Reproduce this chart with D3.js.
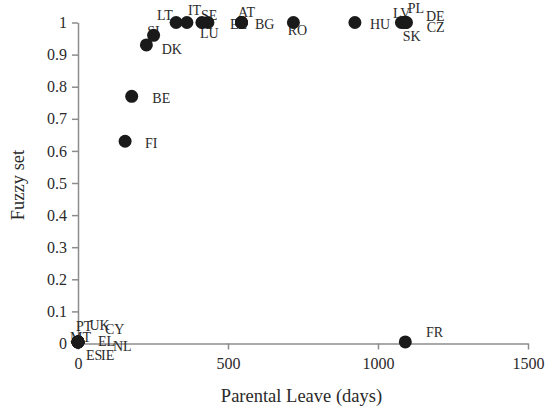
<!DOCTYPE html>
<html>
<head>
<meta charset="utf-8">
<script src="https://cdn.jsdelivr.net/npm/d3@7"></script>
<style>
  html, body { margin: 0; padding: 0; background: #fff; }
  svg { display: block; font-family: "Liberation Serif", "Times New Roman", serif; }
</style>
</head>
<body>
<svg id="chart" width="557" height="410"></svg>
<script>
// Country codes, parental leave (days) and fuzzy-set membership
const countries = ["LT","IT","SE","LU","EE","AT","BG","RO","HU","LV","PL","DE","CZ","SK",
                   "DK","SI","BE","FI","FR","PT","UK","CY","MT","EL","NL","ES","IE"];
const leaveDays = [327, 363, 413, 433, 545, 545, 545, 718, 923, 1078, 1085, 1092, 1095, 1090,
                   228, 252, 179, 157, 1091, 0, 0, 0, 0, 0, 0, 0, 0];
const fuzzySet  = [1, 1, 1, 1, 1, 1, 1, 1, 1, 1, 1, 1, 1, 1,
                   0.93, 0.96, 0.77, 0.63, 0.005, 0.005, 0.005, 0.005, 0.005, 0.005, 0.005, 0.005, 0.005];

const xTicks = [0, 500, 1000, 1500];
const yTicks = [0, 0.1, 0.2, 0.3, 0.4, 0.5, 0.6, 0.7, 0.8, 0.9, 1];

// Marker-label placement: text start / baseline offset from each marker centre
const labelOffset = {
  LT: [-19, -3],  IT: [1, -7.5],  SE: [-1, -2.5], LU: [-8, 15],
  EE: [-11.5, 6.5], AT: [-3.5, -6], BG: [13.5, 6.5], RO: [-5.7, 12.5],
  HU: [15, 6],    LV: [-8.4, -4.2], PL: [4.2, -9.2], DE: [20.4, -1.8],
  CZ: [20.2, 9.2], SK: [-2.3, 18.2], DK: [15.3, 9.3], SI: [-6.3, 0.7],
  BE: [20.6, 6.4], FI: [19.9, 6.4], FR: [20.7, -4.6],
  PT: [-2, -10.4], UK: [11.5, -12], CY: [27, -7.4], MT: [-8, 0],
  EL: [20, 4.6],  NL: [35, 9], ES: [8, 18], IE: [23, 18]
};

const data = countries.map((c, i) => ({ code: c, x: leaveDays[i], y: fuzzySet[i] }));

const svg = d3.select("#chart");
const x = d3.scaleLinear().domain([0, 1500]).range([78, 528]);
const y = d3.scaleLinear().domain([0, 1]).range([343.5, 22.5]);

const axisColor = "#8c8c8c";
const textColor = "#2a2a2a";

// x axis
const gx = svg.append("g")
  .attr("transform", `translate(0,${y(0)})`)
  .call(d3.axisBottom(x).tickValues(xTicks).tickFormat(d3.format("d"))
        .tickSizeInner(6).tickSizeOuter(0).tickPadding(8));

// y axis
const gy = svg.append("g")
  .attr("transform", `translate(${x(0)},0)`)
  .call(d3.axisLeft(y).tickValues(yTicks).tickFormat(d => d === 0 || d === 1 ? String(d) : d3.format(".1f")(d))
        .tickSizeInner(6).tickSizeOuter(0).tickPadding(5));

[gx, gy].forEach(g => {
  g.select(".domain").attr("stroke", axisColor).attr("stroke-width", 1.5);
  g.selectAll(".tick line").attr("stroke", axisColor).attr("stroke-width", 1.5);
  g.selectAll(".tick text")
    .attr("fill", textColor)
    .style("font-family", "'Liberation Serif', 'Times New Roman', serif")
    .style("font-size", "16px");
});

// axis titles
svg.append("text")
  .attr("x", 301.5).attr("y", 402)
  .attr("text-anchor", "middle")
  .attr("fill", textColor)
  .style("font-size", "18.5px")
  .text("Parental Leave (days)");

svg.append("text")
  .attr("transform", "translate(24,185) rotate(-90)")
  .attr("text-anchor", "middle")
  .attr("fill", textColor)
  .style("font-size", "18.5px")
  .text("Fuzzy set");

// marker labels (drawn beneath the markers)
svg.append("g").selectAll("text")
  .data(data)
  .join("text")
  .attr("x", d => x(d.x) + labelOffset[d.code][0])
  .attr("y", d => y(d.y) + labelOffset[d.code][1])
  .attr("fill", textColor)
  .style("font-size", "14px")
  .text(d => d.code);

// markers
svg.append("g").selectAll("circle")
  .data(data)
  .join("circle")
  .attr("cx", d => x(d.x))
  .attr("cy", d => y(d.y))
  .attr("r", 6.5)
  .attr("fill", "#1a1a1a");
</script>
</body>
</html>
